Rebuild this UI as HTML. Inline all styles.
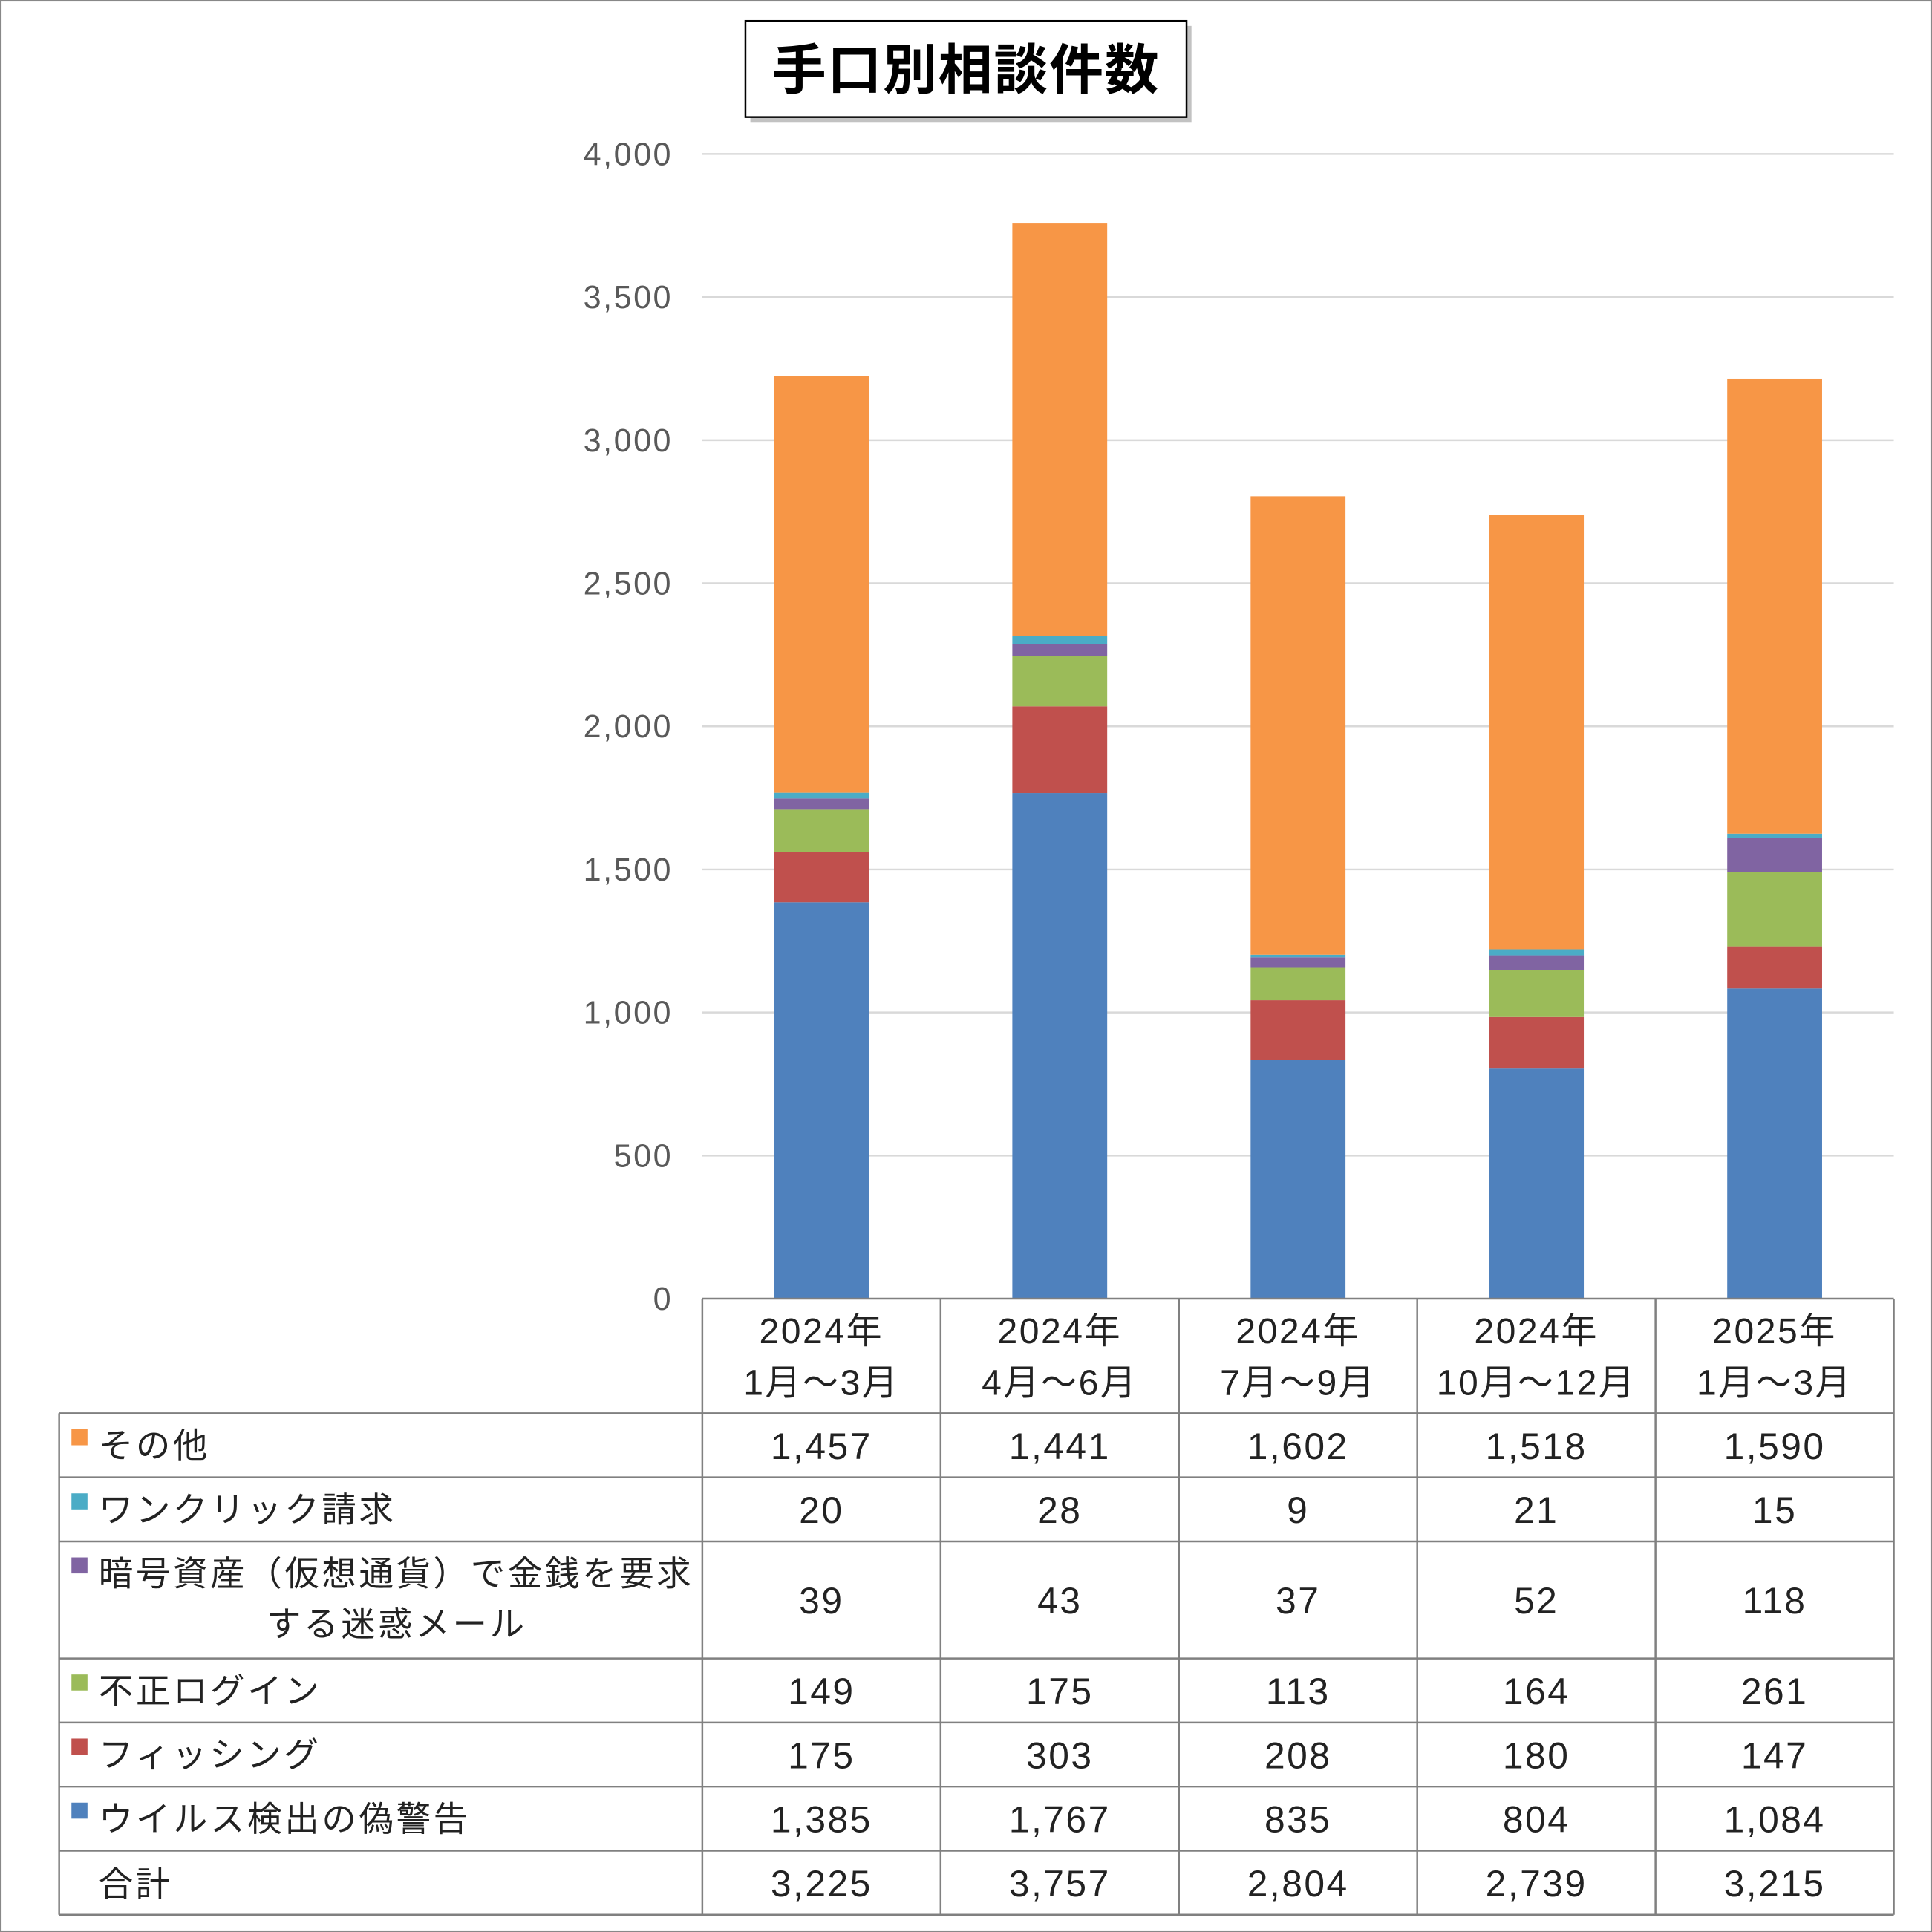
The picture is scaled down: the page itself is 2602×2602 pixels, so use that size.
<!DOCTYPE html>
<html><head><meta charset="utf-8"><style>
html,body{margin:0;padding:0;background:#fff}
svg{display:block}
text{font-family:"Liberation Sans","Noto Sans CJK JP",sans-serif;fill:#222}
</style></head><body>
<svg id="c" width="2602" height="2602" viewBox="0 0 1568 1568" xmlns="http://www.w3.org/2000/svg">
<rect x="0.5" y="0.5" width="1567" height="1567" fill="#fff" stroke="#888" stroke-width="1.5"/>
<rect x="609" y="21" width="358" height="78" fill="#999" opacity="0.6"/>
<rect x="605" y="17" width="358" height="78" fill="#fff" stroke="#000" stroke-width="1.5"/>
<text x="784" y="72" text-anchor="middle" font-size="44" font-weight="bold" letter-spacing="1" style="fill:#000">手口別相談件数</text>
<g id="grid"></g><g id="bars"></g><g id="table"></g>
</svg>
<script>
const categories=[["2024年","1月～3月"],["2024年","4月～6月"],["2024年","7月～9月"],["2024年","10月～12月"],["2025年","1月～3月"]];
const seriesNames=["ウイルス検出の偽警告","フィッシング","不正ログイン","暗号資産（仮想通貨）で金銭を要求する迷惑メール","ワンクリック請求","その他"];
const virus=[1385,1767,835,804,1084];
const phishing=[175,303,208,180,147];
const login=[149,175,113,164,261];
const crypto=[39,43,37,52,118];
const oneclick=[20,28,9,21,15];
const other=[1457,1441,1602,1518,1590];
const totals=[3225,3757,2804,2739,3215];
const yTicks=[0,500,1000,1500,2000,2500,3000,3500,4000];
const colors=["#4f81bd","#c0504d","#9bbb59","#8064a2","#4bacc6","#f79646"];
const NS="http://www.w3.org/2000/svg";
const X0=570,X1=1537,Y0=1054,Y4=125,YMAX=4000;
const cw=(X1-X0)/categories.length;
const y=v=>Y0-(v/YMAX)*(Y0-Y4);
const xc=i=>X0+cw*(i+0.5);
function mk(tag,attrs,parent,txt){const e=document.createElementNS(NS,tag);for(const k in attrs)e.setAttribute(k,attrs[k]);if(txt!==undefined)e.textContent=txt;parent.appendChild(e);return e;}
const fmt=v=>v.toLocaleString('en-US');
const grid=document.getElementById('grid');
yTicks.forEach(t=>{
  if(t>0){const l=mk('line',{x1:X0,x2:X1,y1:y(t),y2:y(t),stroke:'#d9d9d9','stroke-width':1.5},grid);
  
  }
  const tx=mk('text',{x:546,y:y(t)+9,'text-anchor':'end','font-size':26,'letter-spacing':1.5,style:'fill:#595959'},grid,fmt(t));
  
  
});
const series=[virus,phishing,login,crypto,oneclick,other];
const bars=document.getElementById('bars');
const bw=77;
categories.forEach((c,i)=>{
  let acc=0;
  series.forEach((s,k)=>{
    const r=mk('rect',{x:xc(i)-bw/2,y:y(acc+s[i]),width:bw,height:y(acc)-y(acc+s[i]),fill:colors[k]},bars);
    
    
    acc+=s[i];
  });
});
const tb=document.getElementById('table');
const rows=[1147,1199,1251,1346,1398,1450,1502,1554];
const L=48,st='#808080';
function ln(x1,y1,x2,y2){const l=mk('line',{x1,y1,x2,y2,stroke:st,'stroke-width':1.5},tb);}
ln(X0,Y0,X1,Y0);
rows.forEach(r=>ln(L,r,X1,r));
ln(L,rows[0],L,rows[7]);
for(let i=0;i<=categories.length;i++)ln(X0+cw*i,Y0,X0+cw*i,rows[7]);
categories.forEach((c,i)=>{
  const a=mk('text',{x:xc(i),y:1090,'text-anchor':'middle','font-size':29,'letter-spacing':1.5},tb,c[0]);
  
  
  const b=mk('text',{x:xc(i),y:1132,'text-anchor':'middle','font-size':29,'letter-spacing':1.5},tb,c[1]);
  
  
});
const tableOrder=[5,4,3,2,1,0];
tableOrder.forEach((k,ri)=>{
  const top=rows[ri],bot=rows[ri+1],mid=(top+bot)/2;
  const sq=mk('rect',{x:58,y:top+13,width:13,height:13,fill:colors[k]},tb);
  
  
  if(k===3){
    const t1=mk('text',{x:80,y:top+36,'font-size':28,'letter-spacing':2.2},tb,'暗号資産（仮想通貨）で金銭を要求');
    
    
    const t2=mk('text',{x:322,y:top+77,'text-anchor':'middle','font-size':28,'letter-spacing':2.2},tb,'する迷惑メール');
    
    
  } else {
    const t=mk('text',{x:80,y:mid+10,'font-size':28,'letter-spacing':2.2},tb,seriesNames[k]);
    
    
  }
  series[k].forEach((v,i)=>{
    const t=mk('text',{x:xc(i),y:mid+11,'text-anchor':'middle','font-size':30,'letter-spacing':1.5},tb,fmt(v));
    
    
  });
});
const tm=(rows[6]+rows[7])/2;
const tl=mk('text',{x:80,y:tm+11,'font-size':28,'letter-spacing':2},tb,'合計');


totals.forEach((v,i)=>{
  const t=mk('text',{x:xc(i),y:tm+11,'text-anchor':'middle','font-size':30,'letter-spacing':1.5},tb,fmt(v));
  
  
});
</script>
</body></html>
